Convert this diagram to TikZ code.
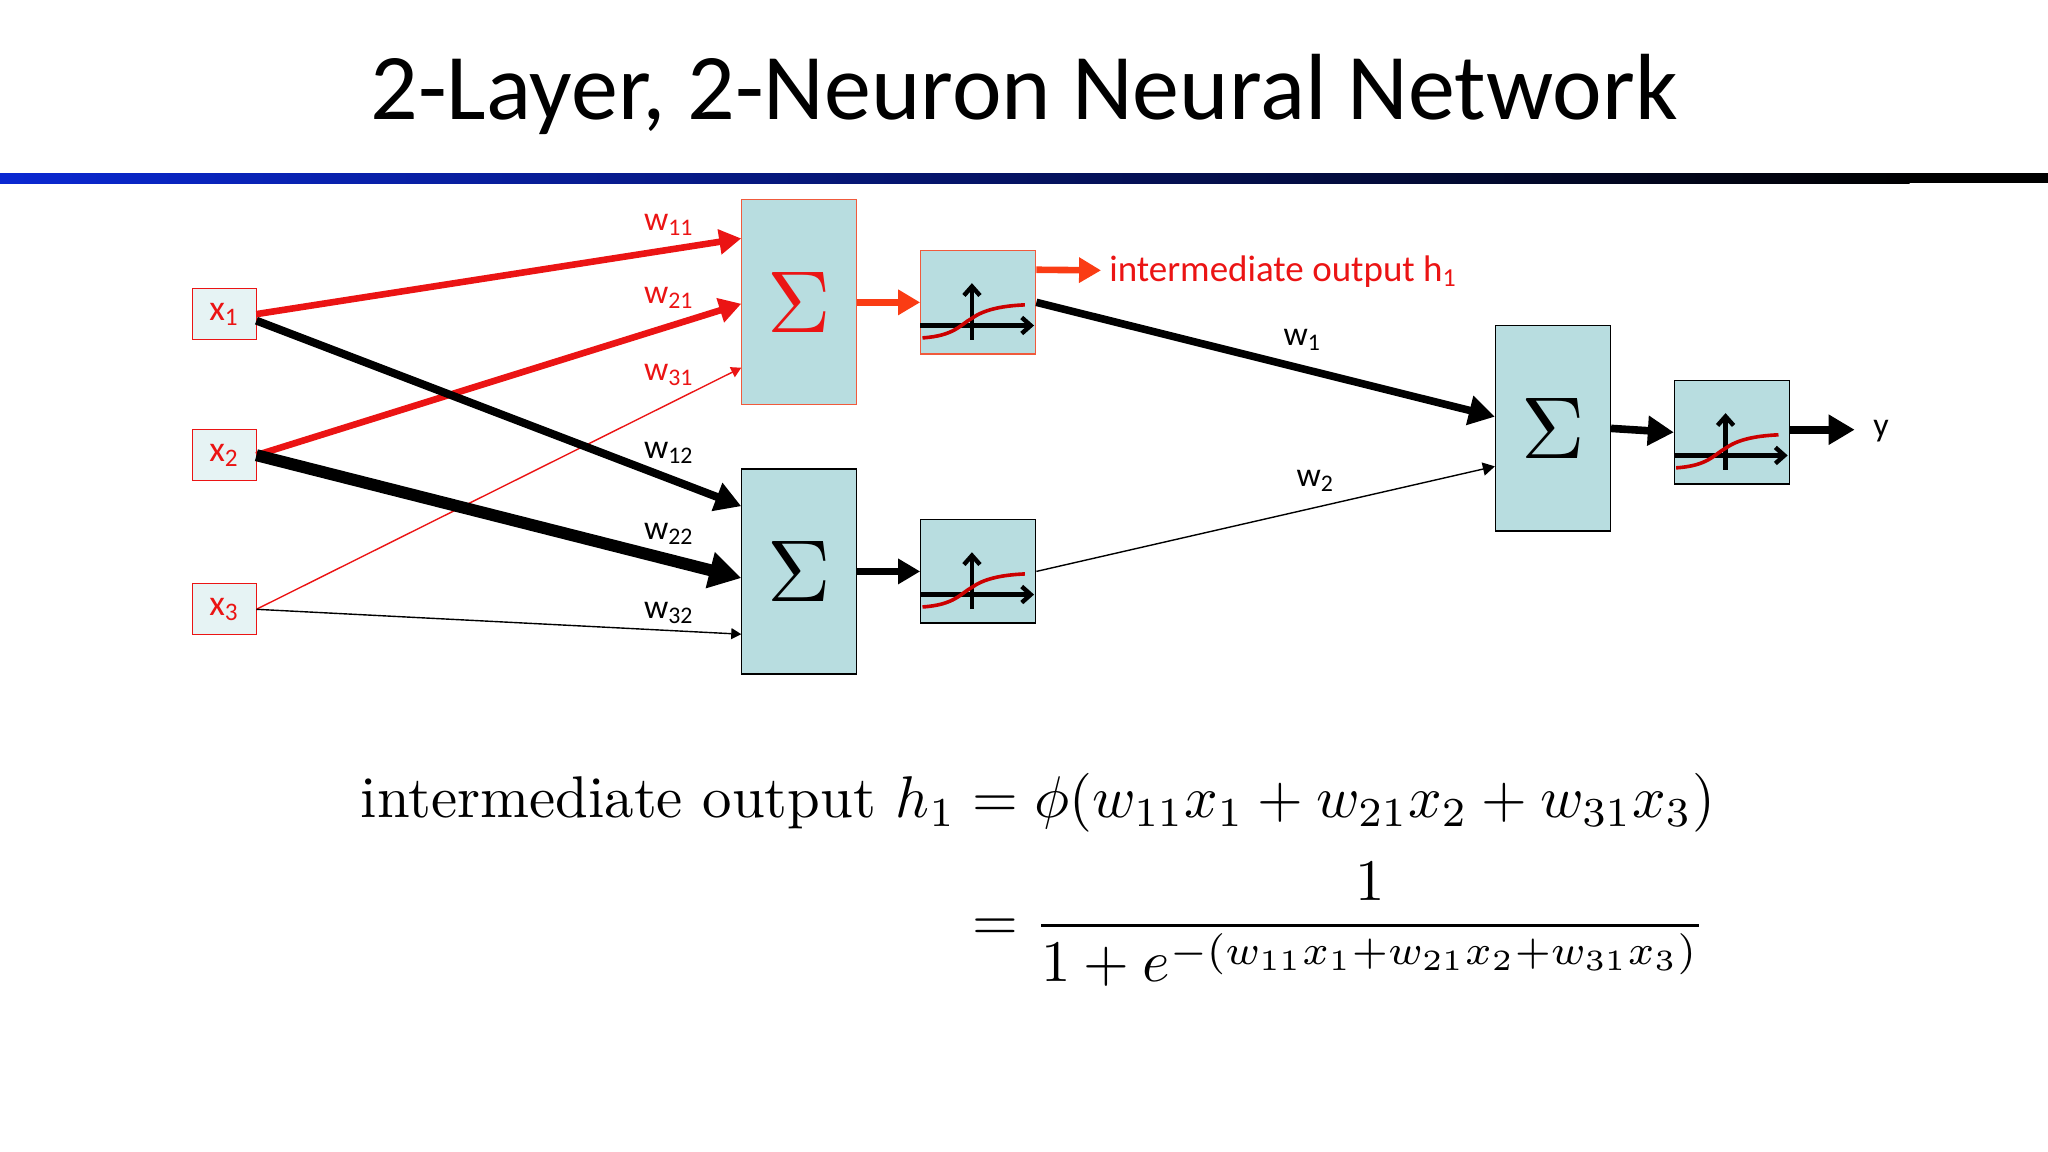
\documentclass[tikz,border=0pt]{standalone}
\usepackage{fontspec}
\usepackage{amsmath}
\usepackage{graphicx}
\setmainfont{Carlito}
\usetikzlibrary{arrows.meta,calc}
\definecolor{boxfill}{RGB}{184,221,224}
\definecolor{hred}{RGB}{235,20,20}
\definecolor{ored}{RGB}{250,60,20}
\definecolor{bord}{RGB}{240,90,60}
\newcommand{\lmrm}{\fontfamily{lmr}\selectfont}
\begin{document}
\begin{tikzpicture}[x=0.653pt,y=-0.653pt,
  inbox/.style={draw=hred,fill=boxfill!35,minimum width=32pt,minimum height=25.5pt,inner sep=0pt,text=hred,font=\fontsize{18}{20}\selectfont},
  sumbox/.style={draw=#1,fill=boxfill,minimum width=57.5pt,minimum height=102.5pt,inner sep=0pt,line width=0.6pt},
  actbox/.style={draw=#1,fill=boxfill,minimum width=57.5pt,minimum height=51.6pt,inner sep=0pt,line width=0.6pt},
  lab/.style={font=\fontsize{17}{19}\selectfont,inner sep=0pt},
  tip/.style={-{Triangle[length=#1,width=#1*1.1]}},
]
\useasboundingbox (0,0) rectangle (1568,882);
\node[font=\fontsize{47}{54}\selectfont] (title) at (784,72) {2-Layer, 2-Neuron Neural Network};
\fill[black] (1440,132.6) rectangle (1568,140.4);
\shade[left color={rgb,255:red,10;green,40;blue,210},right color=black] (0,132.6) rectangle (1462,140.4);

\node[inbox] (x1) at (171.5,240.5) {x\textsubscript{1}};
\node[inbox] (x2) at (171.5,348.5) {x\textsubscript{2}};
\node[inbox] (x3) at (171.5,466.5) {x\textsubscript{3}};
\node[sumbox=bord] (s1) at (612,231.5) {\textcolor{hred}{\resizebox{!}{30pt}{$\Sigma$}}};
\node[sumbox=black] (s2) at (612,437.5) {\resizebox{!}{30pt}{$\Sigma$}};
\node[sumbox=black] (s3) at (1189,328) {\resizebox{!}{30pt}{$\Sigma$}};
\node[actbox=bord] (a1) at (749,231.5) {};
\node[actbox=black] (a2) at (749,437.5) {};
\node[actbox=black] (a3) at (1326,331) {};
\foreach \a in {a1,a2,a3}{
  \begin{scope}[shift={(\a.north west)},x=57.5pt,y=-51.6pt]
    \draw[black,line width=2.2pt,-{Straight Barb[length=4.5pt,width=8pt]}] (0,0.73)--(0.99,0.73);
    \draw[black,line width=2.2pt,-{Straight Barb[length=4.5pt,width=8pt]}] (0.45,0.87)--(0.45,0.32);
    \draw[red!80!black,line width=1.8pt] (0.02,0.85) .. controls (0.3,0.83) and (0.35,0.72) .. (0.45,0.66) .. controls (0.55,0.58) and (0.7,0.54) .. (0.91,0.53);
  \end{scope}}

% first layer
\draw[hred,line width=3.3pt,tip=11pt] (x1.east) -- ($(s1.north west)+(0,30)$);
\draw[hred,line width=3.3pt,tip=11pt] (x2.east) -- ($(s1.north west)+(0,80)$);
\draw[hred,line width=0.7pt,tip=5pt] (x3.east) -- ($(s1.north west)+(0,129)$);
\draw[black,line width=4pt,tip=13pt] ($(x1.east)+(0,5)$) -- ($(s2.north west)+(0,29)$);
\draw[black,line width=6pt,tip=16pt] (x2.east) -- ($(s2.north west)+(0,84)$);
\draw[black,line width=0.7pt,tip=5pt] (x3.east) -- ($(s2.north west)+(0,127)$);
\node[lab,text=hred] (w11) at (512,172) {w\textsubscript{11}};
\node[lab,text=hred] (w21) at (512,228) {w\textsubscript{21}};
\node[lab,text=hred] (w31) at (512,287) {w\textsubscript{31}};
\node[lab] (w12) at (512,347) {w\textsubscript{12}};
\node[lab] (w22) at (512,409) {w\textsubscript{22}};
\node[lab] (w32) at (512,469) {w\textsubscript{32}};

\draw[ored,line width=3.3pt,tip=11pt] (s1.east) -- (a1.west);
\draw[black,line width=3.3pt,tip=11pt] (s2.east) -- (a2.west);
\coordinate (ho) at (843,207);
\draw[ored,line width=3.3pt,tip=11pt] ($(a1.north east)+(0,15)$) -- (ho);
\node[anchor=west,text=hred,font=\fontsize{18.5}{20}\selectfont,inner sep=0pt] (hl) at (849,208) {intermediate output h\textsubscript{1}};

\draw[black,line width=3.8pt,tip=13pt] (a1.east) -- ($(s3.north west)+(0,70)$);
\draw[black,line width=0.7pt,tip=6pt] (a2.east) -- ($(s3.north west)+(0,108)$);
\node[lab] (w1) at (997,260) {w\textsubscript{1}};
\node[lab] (w2) at (1007,368) {w\textsubscript{2}};
\draw[black,line width=3.8pt,tip=13pt] (s3.east) -- (a3.west);
\coordinate (yo) at (1420,329);
\draw[black,line width=3.8pt,tip=13pt] ($(a3.east)+(0,-2)$) -- (yo);
\node[lab,anchor=west] (y) at (1434,330) {y};

\node[anchor=north west,inner sep=0pt] (eq) at (276,588) {\resizebox{677pt}{!}{$\begin{aligned}\text{\lmrm intermediate output }h_1&=\phi(w_{11}x_1+w_{21}x_2+w_{31}x_3)\\&=\frac{1}{1+e^{-(w_{11}x_1+w_{21}x_2+w_{31}x_3)}}\end{aligned}$}};
\end{tikzpicture}
\end{document}
